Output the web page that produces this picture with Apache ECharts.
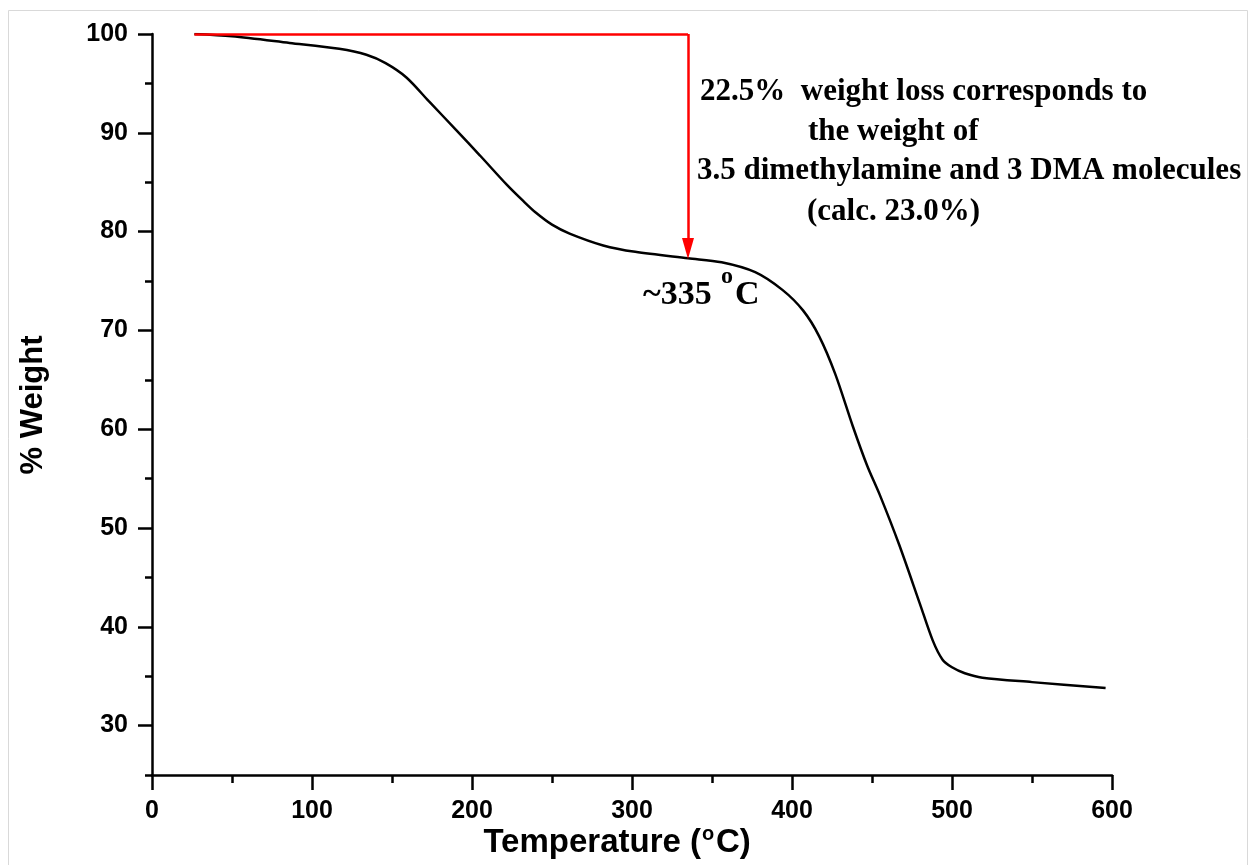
<!DOCTYPE html>
<html>
<head>
<meta charset="utf-8">
<title>TGA curve</title>
<script src="https://cdn.jsdelivr.net/npm/echarts@6/dist/echarts.min.js"></script>
<style>
  html, body { margin: 0; padding: 0; background: #fff; }
  #tgaChart { width: 1252px; height: 865px; }
</style>
</head>
<body>
<div id="tgaChart"></div>
<script>
  // temperature (°C) / weight (%)
  const temperature = [26.5, 50, 86, 117, 134, 146, 159, 173, 190, 205, 222, 232, 240, 250, 261, 282, 302, 335,
    356, 377, 394, 407, 417, 427, 438, 447, 455, 467, 480, 488, 494, 500, 508, 519, 550, 596];
  const weight = [100, 99.77, 99.1, 98.5, 97.9, 97.05, 95.6, 93.2, 90.3, 87.7, 84.7, 83.1, 81.9, 80.7, 79.8, 78.6, 77.95, 77.3,
    76.9, 75.9, 74.1, 72.0, 69.4, 65.6, 60.3, 56.3, 53.3, 48.3, 42.3, 38.6, 36.7, 35.9, 35.3, 34.85, 34.4, 33.8];

  // red marker: from start of run to ~335 °C, then down to the curve
  const lossStart = [26.5, 100];
  const lossCorner = [335, 100];
  const lossEnd = [335, 78.3];

  const yMajorTicks = [30, 40, 50, 60, 70, 80, 90, 100];

  const noteLines = [
    '22.5%  weight loss corresponds to',
    'the weight of',
    '3.5 dimethylamine and 3 DMA molecules',
    '(calc. 23.0%)'
  ];

  const curveData = temperature.map((t, i) => [t, weight[i]]);

  const labelFont = {
    color: '#000',
    fontFamily: 'Liberation Sans, Arial, sans-serif',
    fontWeight: 'bold',
    fontSize: 25
  };
  const sansFont = 'Liberation Sans, Arial, sans-serif';
  const serifFont = 'Liberation Serif, Times New Roman, serif';

  function txt(x, y, text, font, align) {
    return {
      type: 'text', x: x, y: y,
      style: { text: text, fill: '#000', font: font, align: align || 'left', verticalAlign: 'middle' }
    };
  }

  const chart = echarts.init(document.getElementById('tgaChart'));

  const option = {
    animation: false,
    backgroundColor: '#fff',
    grid: { left: 152, right: 140, top: 34, bottom: 90 },
    xAxis: {
      type: 'value',
      min: 0,
      max: 600,
      interval: 100,
      axisLine: { show: true, onZero: false, lineStyle: { color: '#000', width: 2.5 } },
      axisTick: { show: true, inside: false, length: 15, lineStyle: { color: '#000', width: 2.5 } },
      minorTick: { show: true, splitNumber: 2, length: 8, lineStyle: { color: '#000', width: 2.5 } },
      splitLine: { show: false },
      axisLabel: Object.assign({ margin: 24 }, labelFont)
    },
    yAxis: [
      {
        // minor ticks every 5
        type: 'value',
        min: 25,
        max: 100,
        interval: 5,
        position: 'left',
        axisLine: { show: true, onZero: false, lineStyle: { color: '#000', width: 2.5 } },
        axisTick: { show: true, inside: false, length: 7, lineStyle: { color: '#000', width: 2.5 } },
        splitLine: { show: false },
        axisLabel: { show: false }
      },
      {
        // major ticks and labels every 10
        type: 'value',
        min: 25,
        max: 100,
        position: 'left',
        offset: 0,
        axisLine: { show: false },
        axisTick: { show: true, inside: false, length: 14, customValues: yMajorTicks, lineStyle: { color: '#000', width: 2.5 } },
        splitLine: { show: false },
        axisLabel: Object.assign({ margin: 24, customValues: yMajorTicks }, labelFont)
      }
    ],
    series: [
      {
        name: 'TGA',
        type: 'line',
        data: curveData,
        smooth: 0.3,
        showSymbol: false,
        lineStyle: { color: '#000', width: 2.5 },
        z: 3
      },
      {
        name: 'loss',
        type: 'line',
        data: [],
        showSymbol: false,
        z: 4,
        markLine: {
          silent: true,
          animation: false,
          lineStyle: { color: '#ff0000', width: 2.5, type: 'solid' },
          label: { show: false },
          symbolSize: [12, 21],
          data: [
            [{ coord: lossStart, symbol: 'none' }, { coord: lossCorner, symbol: 'none' }],
            [{ coord: lossCorner, symbol: 'none' }, { coord: lossEnd, symbol: 'triangle' }]
          ]
        }
      }
    ],
    graphic: [
      {
        type: 'rect',
        silent: true,
        shape: { x: 8.5, y: 10.5, width: 1239, height: 900 },
        style: { fill: 'none', stroke: '#d9d9d9', lineWidth: 1 },
        z: -1
      },
      {
        type: 'text',
        x: 33, y: 405,
        rotation: Math.PI / 2,
        style: {
          text: '% Weight',
          fill: '#000',
          font: 'bold 31px ' + sansFont,
          align: 'center',
          verticalAlign: 'middle'
        }
      },
      // x axis title with superscript degree sign
      txt(701, 843, 'Temperature (', 'bold 33px ' + sansFont, 'right'),
      txt(702, 834, 'o', 'bold 20px ' + sansFont),
      txt(716, 843, 'C)', 'bold 33px ' + sansFont),
      // ~335 °C label
      txt(643, 295, '~335', 'bold 34px ' + serifFont),
      txt(721, 277, 'o', 'bold 24px ' + serifFont),
      txt(735, 295, 'C', 'bold 34px ' + serifFont),
      // weight-loss note
      txt(700, 92, noteLines[0], 'bold 31px ' + serifFont),
      txt(808, 132, noteLines[1], 'bold 31px ' + serifFont),
      txt(697, 171, noteLines[2], 'bold 31px ' + serifFont),
      txt(807, 212, noteLines[3], 'bold 31px ' + serifFont)
    ]
  };

  chart.setOption(option);
</script>
</body>
</html>
